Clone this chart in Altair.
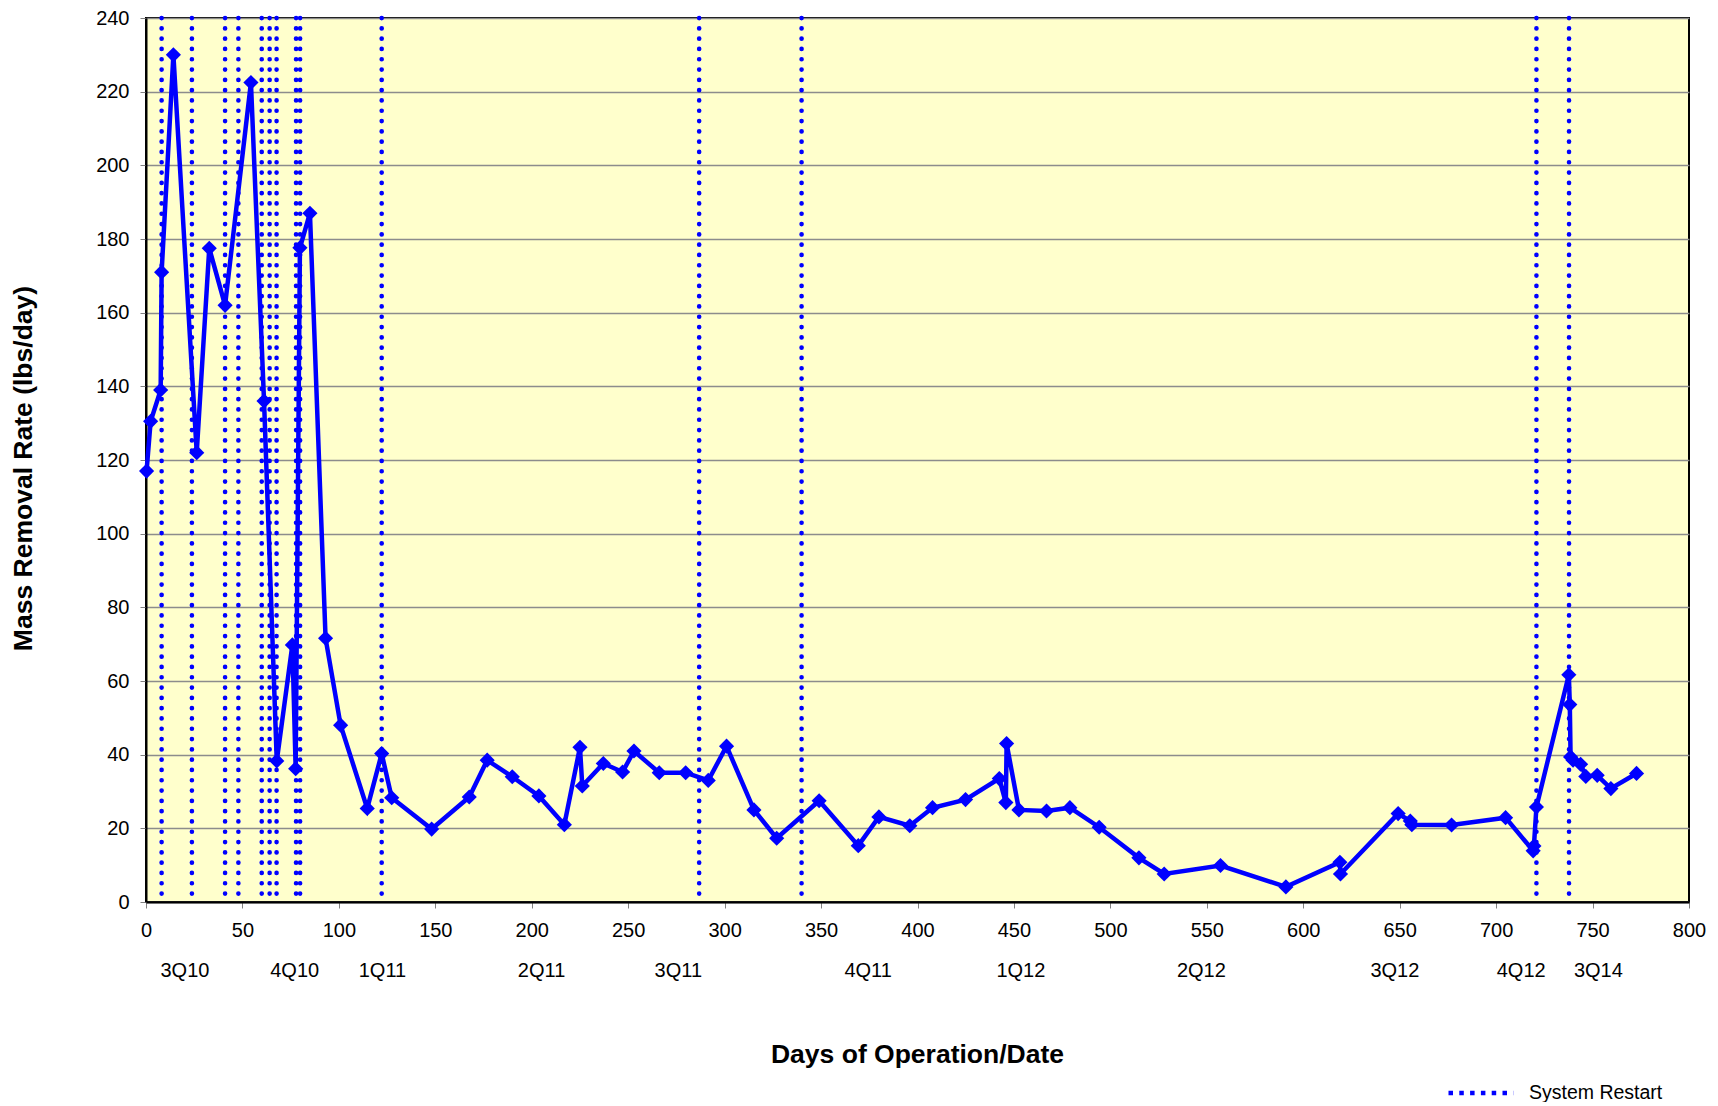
import altair as alt
import pandas as pd

# Mass removal rate series (days of operation, lbs/day)
days = [0.3, 2.4, 7.6, 8.1, 14.2, 26.3, 32.8, 41, 54.4, 61.2, 67.8, 75.9, 77.6, 79.8,
        85, 93.1, 100.9, 114.7, 122.2, 127.4, 148.1, 167.6, 176.9, 189.9, 203.7,
        216.9, 225, 226.2, 237.1, 247.1, 253, 266.1, 279.8, 291.5, 301, 315.2, 327,
        349, 369.3, 380, 396, 407.8, 424.9, 442.4, 445.8, 446.2, 452.6, 466.9, 479,
        494.2, 514.8, 527.9, 557.1, 591, 619, 619.3, 649.2, 655.5, 656.3, 676.9,
        704.9, 719.2, 719.6, 720.9, 737.7, 738.2, 738.6, 739.9, 743.8, 746.5, 752.4,
        759.5, 772.8]
rates = [117, 130.5, 139, 171, 230, 122, 177.5, 162, 222.5, 136, 38.3, 69.8, 36.2, 177.6,
         187, 71.6, 48, 25.4, 40.3, 28.3, 19.8, 28.5, 38.5, 34, 28.8,
         21, 42, 31.5, 37.6, 35.3, 41, 35.1, 35.1, 33, 42.3, 25, 17.3,
         27.5, 15.3, 23.1, 20.7, 25.6, 27.8, 33.5, 27, 43, 25, 24.7, 25.6,
         20.3, 12, 7.6, 9.9, 4.1, 10.8, 7.6, 24, 22, 21, 20.9,
         22.9, 13.9, 15.2, 25.8, 61.7, 53.6, 39.4, 38.5, 37.4, 34.1, 34.4,
         30.8, 34.9]

# System restart days
restart_days = [8.1, 23.8, 41, 47.9, 60, 64.1, 67.7, 77.8, 79.9, 122.2, 286.8, 339.9,
                720.9, 737.8]

# Quarter labels under the axis
quarter_labels = ["3Q10", "4Q10", "1Q11", "2Q11", "3Q11", "4Q11", "1Q12", "2Q12",
                  "3Q12", "4Q12", "3Q14"]
quarter_days = [20.2, 77.1, 122.6, 205.1, 276, 374.4, 453.6, 547.2, 647.5, 713, 753]

x_ticks = [0, 50, 100, 150, 200, 250, 300, 350, 400, 450, 500, 550, 600, 650, 700, 750, 800]
y_ticks = [0, 20, 40, 60, 80, 100, 120, 140, 160, 180, 200, 220, 240]

FONT = "Liberation Sans"
BLUE = "#0000FF"

df = pd.DataFrame({"day": days, "rate": rates, "i": list(range(len(days)))})
df_r = pd.DataFrame({"day": restart_days, "label": ["System Restart"] * len(restart_days)})
df_q = pd.DataFrame({"day": quarter_days, "q": quarter_labels})

xscale = alt.Scale(domain=[0, 800], nice=False, zero=False)
yscale = alt.Scale(domain=[0, 240], nice=False)

x_axis = alt.Axis(
    values=x_ticks, grid=False, title="Days of Operation/Date",
    titleX=771, titleY=160, titleBaseline="alphabetic",
    labelPadding=12, tickSize=6, labelFlush=False,
)
y_axis = alt.Axis(
    values=y_ticks, grid=True, title="Mass Removal Rate (lbs/day)",
    titleX=-115, titleY=450, titleBaseline="alphabetic",
    labelPadding=11, tickSize=6, labelFlush=False,
)

restart = alt.Chart(df_r).mark_rule(
    strokeDash=[0.1, 10.2], strokeCap="round", strokeWidth=4.6
).encode(
    x=alt.X("day:Q", scale=xscale, axis=x_axis),
    color=alt.Color(
        "label:N",
        scale=alt.Scale(domain=["System Restart"], range=[BLUE]),
        legend=alt.Legend(
            title=None, orient="none", legendX=1300, legendY=1040,
            symbolType="stroke", symbolSize=4225, symbolStrokeWidth=4.5,
            symbolDash=[4.5, 6.3], labelFontSize=19.5, labelFont=FONT,
            labelColor="black", labelOffset=13, padding=0,
        ),
    ),
)

line = alt.Chart(df).mark_line(
    color=BLUE, strokeWidth=4.5,
    point=alt.OverlayMarkDef(shape="diamond", size=230, filled=True, color=BLUE, opacity=1),
).encode(
    x=alt.X("day:Q", scale=xscale, axis=x_axis),
    y=alt.Y("rate:Q", scale=yscale, axis=y_axis),
    order=alt.Order("i:Q"),
)

quarters = alt.Chart(df_q).mark_text(
    font=FONT, fontSize=20, color="black", baseline="alphabetic", align="center"
).encode(
    x=alt.X("day:Q", scale=xscale, axis=x_axis),
    y=alt.value(959),
    text="q:N",
)

chart = alt.layer(restart, line, quarters).properties(
    width=1543, height=884,
    padding={"left": 138, "top": 10, "right": 20, "bottom": 200},
    autosize=alt.AutoSizeParams(type="none"),
    background="white",
).configure_view(
    fill="#FFFFCC", stroke="black", strokeWidth=2
).configure_axis(
    labelFont=FONT, labelFontSize=20, labelColor="black",
    titleFont=FONT, titleFontSize=26.5, titleFontWeight="bold", titleColor="black",
    domainColor="black", domainWidth=2,
    tickColor="#808080", tickWidth=1,
    gridColor="#8c8c8c", gridWidth=1.3,
)

chart.save("out.html", embed_options={"renderer": "svg", "actions": False})
